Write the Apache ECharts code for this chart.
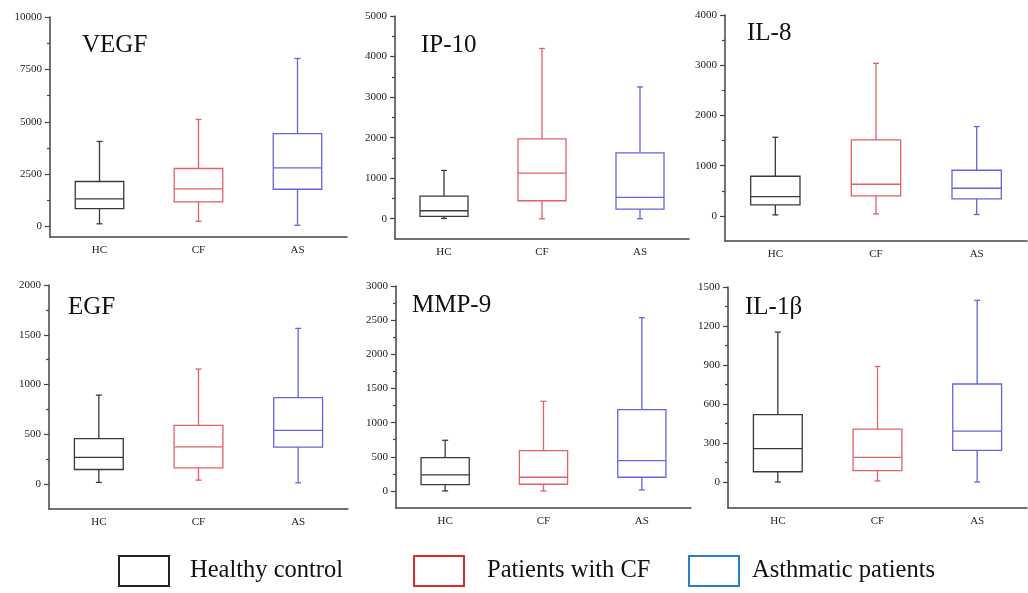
<!DOCTYPE html>
<html>
<head>
<meta charset="utf-8">
<script src="https://cdn.jsdelivr.net/npm/echarts@6/dist/echarts.min.js"></script>
<style>
  html, body { margin: 0; padding: 0; background: #fff; }
  #main { width: 1028px; height: 593px; }
</style>
</head>
<body>
<div id="main"></div>
<script>
// groups on x axis
const categories = ['HC', 'CF', 'AS'];
const groupNames = ['Healthy control', 'Patients with CF', 'Asthmatic patients'];

// box values per group: [min, Q1, median, Q3, max]
const vegf = [[130, 850, 1320, 2150, 4060], [250, 1180, 1800, 2770, 5110], [60, 1780, 2800, 4430, 8020]];
const ip10 = [[8, 57, 197, 558, 1190], [0, 443, 1125, 1970, 4200], [0, 238, 525, 1625, 3250]];
const il8 = [[20, 219, 385, 789, 1565], [40, 398, 630, 1512, 3038], [27, 338, 550, 909, 1778]];
const egf = [[17, 147, 268, 456, 894], [40, 164, 375, 590, 1156], [13, 372, 539, 868, 1564]];
const mmp9 = [[0, 93, 234, 488, 741], [0, 98, 200, 590, 1312], [15, 200, 444, 1190, 2537]];
const il1b = [[0, 79, 256, 519, 1153], [8, 87, 189, 406, 889], [0, 243, 391, 754, 1398]];

// y tick labels
const vegfTicks = [0, 2500, 5000, 7500, 10000];
const ip10Ticks = [0, 1000, 2000, 3000, 4000, 5000];
const il8Ticks = [0, 1000, 2000, 3000, 4000];
const egfTicks = [0, 500, 1000, 1500, 2000];
const mmp9Ticks = [0, 500, 1000, 1500, 2000, 2500, 3000];
const il1bTicks = [0, 300, 600, 900, 1200, 1500];

const font = '"Liberation Serif", "Times New Roman", serif';
const boxColors = ['#3a3a3a', '#e4606a', '#6464e4'];
const legendColors = ['#222222', '#dd2a2a', '#2a7cc4'];

var panels = [
  { title: 'VEGF', data: vegf, ticks: vegfTicks, min: -500, left: 50, top: 17, width: 297, height: 220, tx: 82, ty: 33 },
  { title: 'IP-10', data: ip10, ticks: ip10Ticks, min: -500, left: 395, top: 16, width: 294, height: 223, tx: 421, ty: 33 },
  { title: 'IL-8', data: il8, ticks: il8Ticks, min: -500, left: 725, top: 15, width: 302, height: 226, tx: 747, ty: 21 },
  { title: 'EGF', data: egf, ticks: egfTicks, min: -250, left: 49, top: 285, width: 299, height: 224, tx: 68, ty: 295 },
  { title: 'MMP-9', data: mmp9, ticks: mmp9Ticks, min: -250, left: 396, top: 286, width: 295, height: 222, tx: 412, ty: 293 },
  { title: 'IL-1β', data: il1b, ticks: il1bTicks, min: -200, left: 728, top: 287, width: 299, height: 221, tx: 745, ty: 295 }
];

function renderBox(params, api) {
  var x = api.value(0);
  var w = api.size([1, 0])[0] * 0.49;
  var cap = 3;
  var pMin = api.coord([x, api.value(1)]);
  var pQ1 = api.coord([x, api.value(2)]);
  var pMed = api.coord([x, api.value(3)]);
  var pQ3 = api.coord([x, api.value(4)]);
  var pMax = api.coord([x, api.value(5)]);
  var color = api.visual('color');
  var st = { stroke: color, lineWidth: 1.3, fill: null };
  var cx = pMed[0];
  return {
    type: 'group',
    children: [
      { type: 'rect', shape: { x: cx - w / 2, y: pQ3[1], width: w, height: pQ1[1] - pQ3[1] }, style: st },
      { type: 'line', shape: { x1: cx - w / 2, y1: pMed[1], x2: cx + w / 2, y2: pMed[1] }, style: st },
      { type: 'line', shape: { x1: cx, y1: pQ3[1], x2: cx, y2: pMax[1] }, style: st },
      { type: 'line', shape: { x1: cx - cap, y1: pMax[1], x2: cx + cap, y2: pMax[1] }, style: st },
      { type: 'line', shape: { x1: cx, y1: pQ1[1], x2: cx, y2: pMin[1] }, style: st },
      { type: 'line', shape: { x1: cx - cap, y1: pMin[1], x2: cx + cap, y2: pMin[1] }, style: st }
    ]
  };
}

var grid = [], xAxis = [], yAxis = [], series = [], title = [];

panels.forEach(function (p, i) {
  var step = p.ticks[1] - p.ticks[0];
  var max = p.ticks[p.ticks.length - 1];
  var minor = [];
  for (var k = 0; k < p.ticks.length - 1; k++) minor.push(p.ticks[k] + step / 2);

  grid.push({ left: p.left, top: p.top, width: p.width, height: p.height });
  title.push({ text: p.title, left: p.tx, top: p.ty, padding: 0,
    textStyle: { fontFamily: font, fontSize: 25, fontWeight: 'normal', color: '#111' } });

  xAxis.push({
    type: 'category', gridIndex: i, data: categories,
    axisLine: { onZero: false, lineStyle: { color: '#444', width: 1.5 } },
    axisTick: { alignWithLabel: true, length: 5, lineStyle: { color: '#444', width: 1.2 } },
    axisLabel: { margin: 8, fontFamily: font, fontSize: 11, color: '#222' },
    splitLine: { show: false }
  });
  yAxis.push({
    type: 'value', gridIndex: i, min: p.min, max: max,
    axisLine: { show: true, lineStyle: { color: '#444', width: 1.5 } },
    axisTick: { show: true, length: 5, customValues: p.ticks, lineStyle: { color: '#444', width: 1.2 } },
    axisLabel: { customValues: p.ticks, margin: 8, fontFamily: font, fontSize: 11, color: '#222',
      formatter: function (v) { return String(v); } },
    splitLine: { show: false }
  });
  // minor ticks
  yAxis.push({
    type: 'value', gridIndex: i, min: p.min, max: max, position: 'left',
    axisLine: { show: false },
    axisTick: { show: true, length: 3, customValues: minor, lineStyle: { color: '#444', width: 1.2 } },
    axisLabel: { show: false },
    splitLine: { show: false }
  });

  p.data.forEach(function (box, g) {
    series.push({
      type: 'custom',
      name: groupNames[g],
      xAxisIndex: i,
      yAxisIndex: i * 2,
      color: boxColors[g],
      renderItem: renderBox,
      encode: { x: 0, y: [1, 2, 3, 4, 5] },
      data: [[g].concat(box)]
    });
  });
});

var legendLefts = [118, 413, 688];
var legendTextGap = [16, 18, 8];
var legend = groupNames.map(function (name, g) {
  return {
    left: legendLefts[g], top: 555, padding: 0,
    itemWidth: 50, itemHeight: 30,
    selectedMode: false,
    textStyle: { fontFamily: font, fontSize: 24.5, color: '#111', padding: [4, 0, 0, legendTextGap[g]] },
    data: [{ name: name, icon: 'rect',
      itemStyle: { color: 'rgba(0,0,0,0)', borderColor: legendColors[g], borderWidth: 2 } }]
  };
});

var chart = echarts.init(document.getElementById('main'), null, { renderer: 'canvas' });
chart.setOption({
  backgroundColor: '#fff',
  animation: false,
  title: title,
  legend: legend,
  grid: grid,
  xAxis: xAxis,
  yAxis: yAxis,
  series: series
});
</script>
</body>
</html>
